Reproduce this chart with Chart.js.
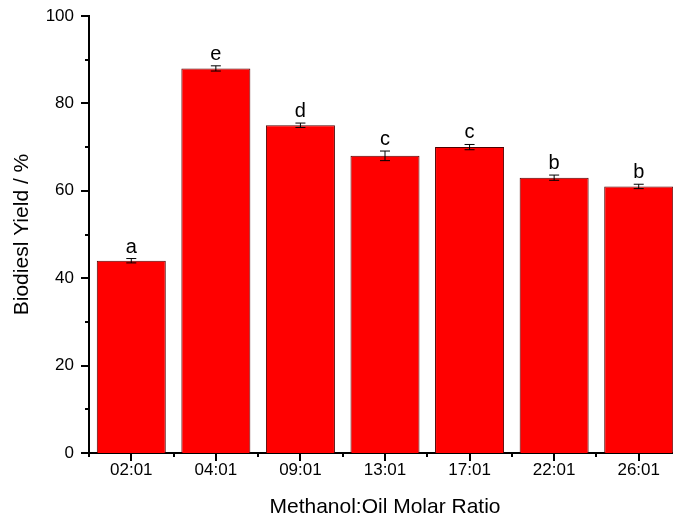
<!DOCTYPE html>
<html>
<head>
<meta charset="utf-8">
<script src="https://cdn.jsdelivr.net/npm/chart.js@4"></script>
<style>
  html, body { margin: 0; padding: 0; background: #fff; overflow: hidden; }
</style>
</head>
<body>
<canvas id="yield-chart" width="681" height="517"></canvas>
<script>
const ratios = ["02:01", "04:01", "09:01", "13:01", "17:01", "22:01", "26:01"];
const yieldValues = [44, 88, 75, 68, 70, 63, 61];
const yieldErrors = [0.5, 0.6, 0.5, 1.1, 0.6, 0.6, 0.5];
const groupLetters = ["a", "e", "d", "c", "c", "b", "b"];
const yTicks = [0, 20, 40, 60, 80, 100];
const yMinorTicks = [10, 30, 50, 70, 90];

// error bars, significance letters and outward axis ticks
const extras = {
    id: "extras",
    afterDatasetsDraw(chart) {
        const ctx = chart.ctx;
        const x = chart.scales.x;
        const y = chart.scales.y;
        const area = chart.chartArea;
        ctx.save();
        ctx.strokeStyle = "#000";
        ctx.fillStyle = "#000";
        ctx.lineWidth = 1;
        yieldValues.forEach(function (v, i) {
            const cx = x.getPixelForValue(i);
            const top = y.getPixelForValue(v + yieldErrors[i]);
            const bot = y.getPixelForValue(v - yieldErrors[i]);
            ctx.beginPath();
            ctx.moveTo(cx, top); ctx.lineTo(cx, bot);
            ctx.moveTo(cx - 5, top); ctx.lineTo(cx + 5, top);
            ctx.moveTo(cx - 5, bot); ctx.lineTo(cx + 5, bot);
            ctx.stroke();
            ctx.font = "20px 'Liberation Sans', Arial, sans-serif";
            ctx.textAlign = "center";
            ctx.textBaseline = "alphabetic";
            ctx.fillText(groupLetters[i], cx, top - 6);
        });

        ctx.lineWidth = 2;
        ctx.beginPath();
        yTicks.forEach(function (t) {
            const py = Math.round(y.getPixelForValue(t));
            ctx.moveTo(area.left, py); ctx.lineTo(area.left - 8, py);
        });
        yMinorTicks.forEach(function (t) {
            const py = Math.round(y.getPixelForValue(t));
            ctx.moveTo(area.left, py); ctx.lineTo(area.left - 4, py);
        });
        ratios.forEach(function (r, i) {
            const px = Math.round(x.getPixelForValue(i));
            ctx.moveTo(px, area.bottom); ctx.lineTo(px, area.bottom + 8);
            const bx = Math.round(x.getPixelForValue(i - 0.5));
            ctx.moveTo(bx, area.bottom); ctx.lineTo(bx, area.bottom + 4);
        });
        ctx.stroke();
        ctx.restore();
    }
};

new Chart(document.getElementById("yield-chart"), {
    type: "bar",
    data: {
        labels: ratios,
        datasets: [{
            data: yieldValues,
            backgroundColor: "#ff0000",
            borderColor: "#500000",
            borderWidth: 1,
            categoryPercentage: 1,
            barPercentage: 0.816
        }]
    },
    options: {
        responsive: false,
        animation: false,
        layout: { padding: { top: 16, left: 0, right: 0, bottom: 0 } },
        plugins: {
            legend: { display: false },
            tooltip: { enabled: false }
        },
        scales: {
            x: {
                afterFit: function (s) { s.height = 64; s.paddingLeft = 0; s.paddingRight = 0; },
                grid: { display: false, drawTicks: false },
                border: { display: true, color: "#000", width: 2 },
                ticks: {
                    color: "#000",
                    padding: 7,
                    maxRotation: 0,
                    font: { family: "'Liberation Sans', Arial, sans-serif", size: 17 }
                },
                title: {
                    display: true,
                    text: "Methanol:Oil Molar Ratio",
                    color: "#000",
                    padding: { top: 4, bottom: -3 },
                    font: { family: "'Liberation Sans', Arial, sans-serif", size: 21 }
                }
            },
            y: {
                min: 0,
                max: 100,
                afterFit: function (s) { s.width = 89; s.paddingTop = 0; s.paddingBottom = 0; },
                afterBuildTicks: function (s) { s.ticks = yTicks.map(v => ({ value: v })); },
                grid: { display: false, drawTicks: false },
                border: { display: true, color: "#000", width: 2 },
                ticks: {
                    color: "#000",
                    padding: 15,
                    font: { family: "'Liberation Sans', Arial, sans-serif", size: 17 }
                },
                title: {
                    display: true,
                    text: "Biodiesl Yield / %",
                    color: "#000",
                    padding: { top: 10, bottom: 0 },
                    font: { family: "'Liberation Sans', Arial, sans-serif", size: 21 }
                }
            }
        }
    },
    plugins: [extras]
});
</script>
</body>
</html>
